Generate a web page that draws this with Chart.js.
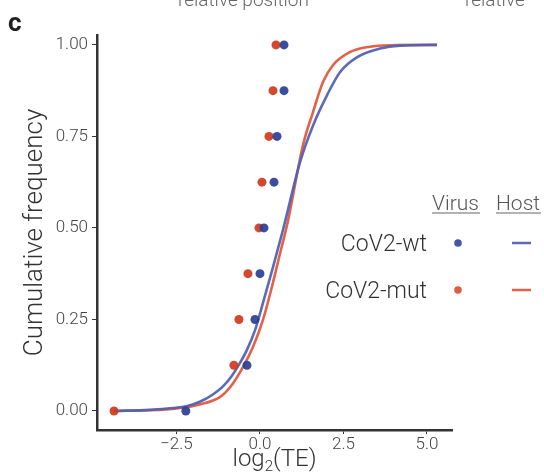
<!DOCTYPE html>
<html>
<head>
<meta charset="utf-8">
<script src="https://cdn.jsdelivr.net/npm/chart.js@4"></script>
<style>
  body { margin: 0; background: #fff; }
  #wrap { width: 544px; height: 473px; }
</style>
</head>
<body>
<div id="wrap"><canvas id="cdfChart" width="544" height="473"></canvas></div>
<script>
// cumulative levels of the virus genes
var virusLevels = [0, 0.125, 0.25, 0.375, 0.5, 0.625, 0.75, 0.875, 1];
// log2(TE) of virus genes
var virusWt  = [-2.22, -0.39, -0.15, 0.0, 0.12, 0.42, 0.51, 0.72, 0.72];
var virusMut = [-4.37, -0.78, -0.63, -0.36, -0.03, 0.06, 0.27, 0.39, 0.48];

// host CDF curves
var hostWtX = [-4.37, -3.3, -2.6, -2.2, -1.8, -1.41, -1.1, -0.85, -0.62, -0.39, -0.15, 0.09, 0.39, 0.69, 1.20, 1.59, 2.01, 2.40, 2.90, 3.59, 4.20, 5.30];
var hostWtY = [0, 0.003, 0.008, 0.013, 0.025, 0.045, 0.068, 0.095, 0.128, 0.167, 0.22, 0.295, 0.393, 0.495, 0.68, 0.78, 0.863, 0.926, 0.966, 0.99, 0.998, 1.0];
var hostMutX = [-4.37, -3.3, -2.5, -1.8, -1.2, -0.90, -0.51, -0.21, 0.09, 0.36, 0.60, 0.84, 1.29, 1.59, 1.89, 2.19, 2.69, 3.29, 3.9, 5.30];
var hostMutY = [0, 0.002, 0.007, 0.018, 0.038, 0.064, 0.12, 0.175, 0.249, 0.34, 0.43, 0.52, 0.727, 0.817, 0.899, 0.945, 0.98, 0.995, 0.999, 1.0];

var xTickValues = [-2.5, 0, 2.5, 5];
var yTickValues = [0, 0.25, 0.5, 0.75, 1];
var seriesNames = ['CoV2-wt', 'CoV2-mut'];

var FONT = "Roboto, 'Liberation Sans', sans-serif";
var blueDot = 'rgba(45,62,150,0.92)';
var redDot = 'rgba(208,58,28,0.92)';
var blueLine = 'rgba(82,98,178,0.95)';
var redLine = 'rgba(226,88,62,0.95)';

function toPoints(xs, ys) {
    var out = [];
    for (var i = 0; i < xs.length; i++) out.push({x: xs[i], y: ys[i]});
    return out;
}

// text that is not part of the axes: panel letter, cut header, x title, legend
var extrasPlugin = {
    id: 'extras',
    afterDraw: function(chart) {
        var ctx = chart.ctx;
        var area = chart.chartArea;
        ctx.save();
        // header from the panel above
        ctx.fillStyle = '#666';
        ctx.font = '300 19px ' + FONT;
        ctx.textBaseline = 'alphabetic';
        ctx.textAlign = 'left';
        ctx.fillText('relative position', 178, 6);
        ctx.fillText('relative', 465, 6);
        // panel letter
        ctx.fillStyle = '#222';
        ctx.font = 'bold 26px ' + FONT;
        ctx.fillText('c', 8, 31);
        // x axis title with subscript, centred on the panel
        var cx = (area.left + area.right) / 2;
        ctx.fillStyle = '#333';
        ctx.font = '300 24px ' + FONT;
        var w1 = ctx.measureText('log').width;
        var w3 = ctx.measureText('(TE)').width;
        ctx.font = '300 15px ' + FONT;
        var w2 = ctx.measureText('2').width;
        var sx = cx - (w1 + w2 + w3) / 2;
        var by = 466;
        ctx.font = '300 24px ' + FONT;
        ctx.fillText('log', sx, by);
        ctx.font = '300 15px ' + FONT;
        ctx.fillText('2', sx + w1, by + 5);
        ctx.font = '300 24px ' + FONT;
        ctx.fillText('(TE)', sx + w1 + w2, by);

        // legend
        ctx.fillStyle = '#555';
        ctx.font = '300 21px ' + FONT;
        ctx.fillText('Virus', 432, 210);
        ctx.fillText('Host', 496, 210);
        ctx.strokeStyle = '#666';
        ctx.lineWidth = 1;
        ctx.beginPath();
        ctx.moveTo(432, 213); ctx.lineTo(480, 213);
        ctx.moveTo(496, 213); ctx.lineTo(541, 213);
        ctx.stroke();
        var rows = [243, 290];
        var dots = ['rgba(70,86,168,1)', 'rgba(222,92,66,1)'];
        var lines = [blueLine, redLine];
        ctx.font = '300 23px ' + FONT;
        ctx.textAlign = 'right';
        for (var i = 0; i < seriesNames.length; i++) {
            ctx.fillStyle = '#333';
            ctx.fillText(seriesNames[i], 427, rows[i] + 8);
            ctx.fillStyle = dots[i];
            ctx.beginPath();
            ctx.arc(458, rows[i], 3.8, 0, Math.PI * 2);
            ctx.fill();
            ctx.strokeStyle = lines[i];
            ctx.lineWidth = 2.5;
            ctx.beginPath();
            ctx.moveTo(512, rows[i]); ctx.lineTo(531, rows[i]);
            ctx.stroke();
        }
        ctx.restore();
    }
};

var ctxCdf = document.getElementById('cdfChart');
var cdfChart = new Chart(ctxCdf, {
    type: 'scatter',
    data: {
        datasets: [{
            label: 'CoV2-wt virus',
            data: toPoints(virusWt, virusLevels),
            backgroundColor: blueDot,
            borderWidth: 0,
            pointRadius: 4.5
        }, {
            label: 'CoV2-mut virus',
            data: toPoints(virusMut, virusLevels),
            backgroundColor: redDot,
            borderWidth: 0,
            pointRadius: 4.5
        }, {
            label: 'CoV2-wt host',
            type: 'line',
            data: toPoints(hostWtX, hostWtY),
            borderColor: blueLine,
            borderWidth: 2.6,
            pointRadius: 0,
            cubicInterpolationMode: 'monotone',
            fill: false
        }, {
            label: 'CoV2-mut host',
            type: 'line',
            data: toPoints(hostMutX, hostMutY),
            borderColor: redLine,
            borderWidth: 2.6,
            pointRadius: 0,
            cubicInterpolationMode: 'monotone',
            fill: false
        }]
    },
    options: {
        responsive: false,
        devicePixelRatio: 1,
        animation: false,
        layout: { padding: { left: 0, right: 92, top: 35, bottom: 0 } },
        plugins: {
            legend: { display: false },
            tooltip: { enabled: false }
        },
        scales: {
            x: {
                type: 'linear',
                min: -4.88,
                max: 5.75,
                afterBuildTicks: function(scale) {
                    scale.ticks = xTickValues.map(function(v) { return {value: v}; });
                },
                afterFit: function(scale) { scale.height = 43; },
                border: { color: '#333', width: 2.5 },
                grid: { drawOnChartArea: false, drawTicks: true, tickLength: 4, color: '#333', lineWidth: 1 },
                ticks: {
                    color: '#444',
                    padding: 1,
                    font: { family: FONT, size: 17, weight: '300' },
                    maxRotation: 0,
                    callback: function(v) { return (v < 0 ? '\u2212' : '') + Math.abs(v).toFixed(1); }
                }
            },
            y: {
                type: 'linear',
                min: -0.052,
                max: 1.027,
                afterBuildTicks: function(scale) {
                    scale.ticks = yTickValues.map(function(v) { return {value: v}; });
                },
                afterFit: function(scale) { scale.width = 97; },
                border: { color: '#333', width: 2.5 },
                grid: { drawOnChartArea: false, drawTicks: true, tickLength: 5, color: '#333', lineWidth: 1 },
                title: {
                    display: true,
                    text: 'Cumulative frequency',
                    color: '#333',
                    font: { family: FONT, size: 26, weight: '300' },
                    padding: { top: 20, bottom: 0 }
                },
                ticks: {
                    color: '#444',
                    padding: 4,
                    font: { family: FONT, size: 17, weight: '300' },
                    callback: function(v) { return v.toFixed(2); }
                }
            }
        }
    },
    plugins: [extrasPlugin]
});
</script>
</body>
</html>
